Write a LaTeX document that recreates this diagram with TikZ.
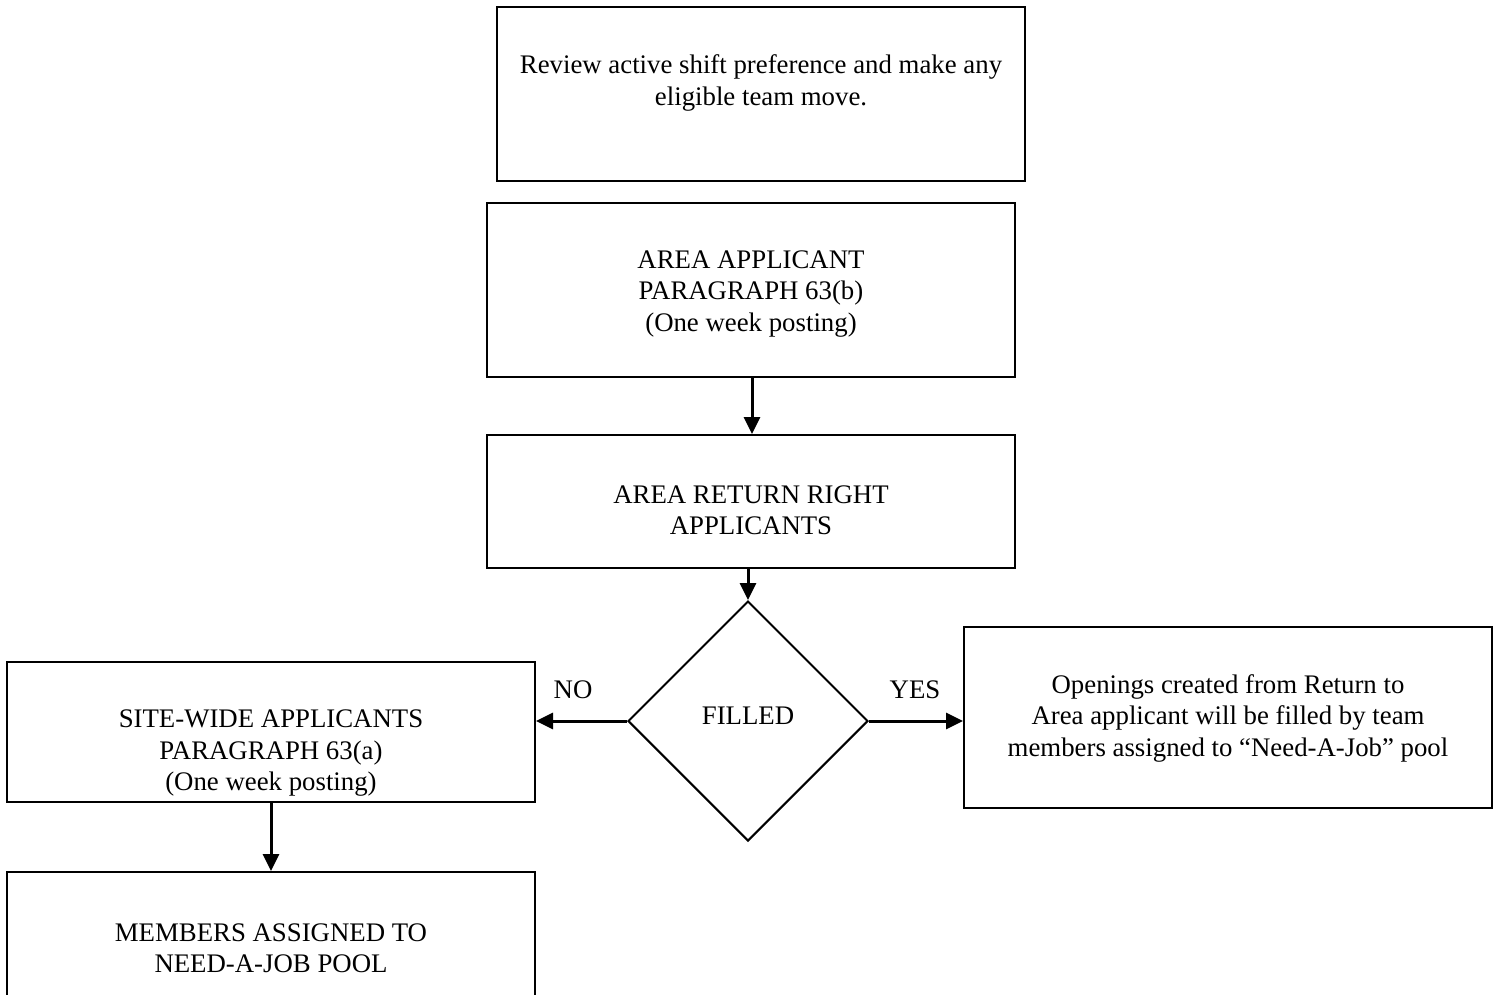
\documentclass[tikz,border=0pt]{standalone}
\usepackage{fontspec}
\setmainfont{Liberation Serif}
\usetikzlibrary{shapes.geometric,arrows.meta}
\begin{document}
\begin{tikzpicture}[x=1pt,y=-1pt,
  box/.style={draw, line width=2pt, rectangle, inner sep=0pt, minimum width=528pt},
  txt/.style={align=center, inner sep=0pt, font=\fontsize{26.8}{31.5}\selectfont},
  flow/.style={line width=3pt, -{Triangle[length=17pt,width=16pt]}}]
  \useasboundingbox (0,0) rectangle (1499,994);
  \begin{scope}
    \clip (0,0) rectangle (1499,994);
    % process boxes
    \node[box, minimum height=174pt] (b1) at (761,94) {};
    \node[box, minimum height=174pt] (b2) at (751,290) {};
    \node[box, minimum height=133pt] (b3) at (751,501.5) {};
    \node[draw, line width=2pt, diamond, aspect=1, inner sep=0pt,
          minimum width=240pt, minimum height=240pt] (d) at (748,721) {};
    \node[box, minimum height=140pt] (bl) at (271,732) {};
    \node[box, minimum height=181pt] (br) at (1228,717.5) {};
    \node[box, minimum height=176pt] (bb) at (271,960) {};
    % texts
    \node[txt] (t1) at (761,83) {Review active shift preference and make any\\eligible team move.};
    \node[txt] (t2) at (751,294) {AREA APPLICANT\\PARAGRAPH 63(b)\\(One week posting)};
    \node[txt] (t3) at (751,510) {AREA RETURN RIGHT\\APPLICANTS};
    \node[txt] (td) at (748,716) {FILLED};
    \node[txt] (tl) at (271,753.5) {SITE-WIDE APPLICANTS\\PARAGRAPH 63(a)\\(One week posting)};
    \node[txt] (tr) at (1228,718) {Openings created from Return to\\Area applicant will be filled by team\\members assigned to “Need-A-Job” pool};
    \node[txt] (tb) at (271,948) {MEMBERS ASSIGNED TO\\NEED-A-JOB POOL};
    \node[txt] (no) at (573,690) {NO};
    \node[txt] (yes) at (915,690) {YES};
    % connectors
    \draw[flow] (b2.south -| 752,0) -- (b3.north -| 752,0);
    \draw[flow] (b3.south -| d.north) -- (d.north);
    \draw[flow] (d.west) -- (bl.east |- d.west);
    \draw[flow] (d.east) -- (br.west |- d.east);
    \draw[flow] (bl.south) -- (bb.north);
  \end{scope}
\end{tikzpicture}
\end{document}
